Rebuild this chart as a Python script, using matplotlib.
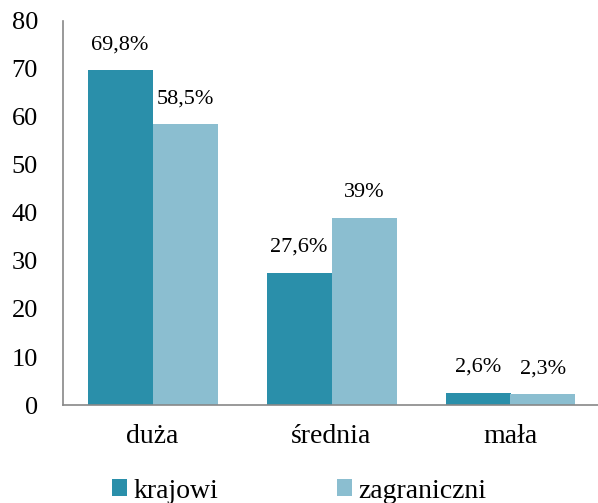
import numpy as np
import matplotlib.pyplot as plt

categories = ['duża', 'średnia', 'mała']
krajowi = [69.8, 27.6, 2.6]
zagraniczni = [58.5, 39.0, 2.3]
labels_k = ['69,8%', '27,6%', '2,6%']
labels_z = ['58,5%', '39%', '2,3%']
yticks = [0, 10, 20, 30, 40, 50, 60, 70, 80]

plt.rcParams['font.family'] = ['Liberation Serif', 'DejaVu Serif']

fig = plt.figure(figsize=(5.98, 5.03), dpi=100)
ax = fig.add_axes([63 / 598, 1 - 405 / 503, 537 / 598, 384 / 503])

x = np.arange(len(categories))
w = 65 / 179
c1, c2 = '#2A8FAA', '#8BBED0'
b1 = ax.bar(x - w / 2, krajowi, w, color=c1, label='krajowi')
b2 = ax.bar(x + w / 2, zagraniczni, w, color=c2, label='zagraniczni')

for rects, labs in ((b1, labels_k), (b2, labels_z)):
    for r, t in zip(rects, labs):
        ax.text(r.get_x() + r.get_width() / 2, r.get_height() + 3.3, t,
                ha='center', va='bottom', fontsize=16)

ax.set_xlim(-0.5, 2.5)
ax.set_ylim(0, 80)
ax.set_yticks(yticks)
ax.set_yticklabels([str(v) for v in yticks], fontsize=19)
ax.set_xticks(x)
ax.set_xticklabels(categories, fontsize=20)
ax.tick_params(axis='both', length=0)
ax.tick_params(axis='y', pad=18)
ax.tick_params(axis='x', pad=14)
for s in ('top', 'right'):
    ax.spines[s].set_visible(False)
for s in ('left', 'bottom'):
    ax.spines[s].set_color('#888888')
    ax.spines[s].set_linewidth(1.2)

fig.legend(handles=[b1, b2], loc='center left', bbox_to_anchor=(112 / 598, 1 - 491 / 503),
           ncol=2, frameon=False, fontsize=20, handlelength=0.54, handleheight=0.54,
           handletextpad=0.22, columnspacing=4.3, borderaxespad=0, borderpad=0)

fig.savefig('out.png', dpi=100)
